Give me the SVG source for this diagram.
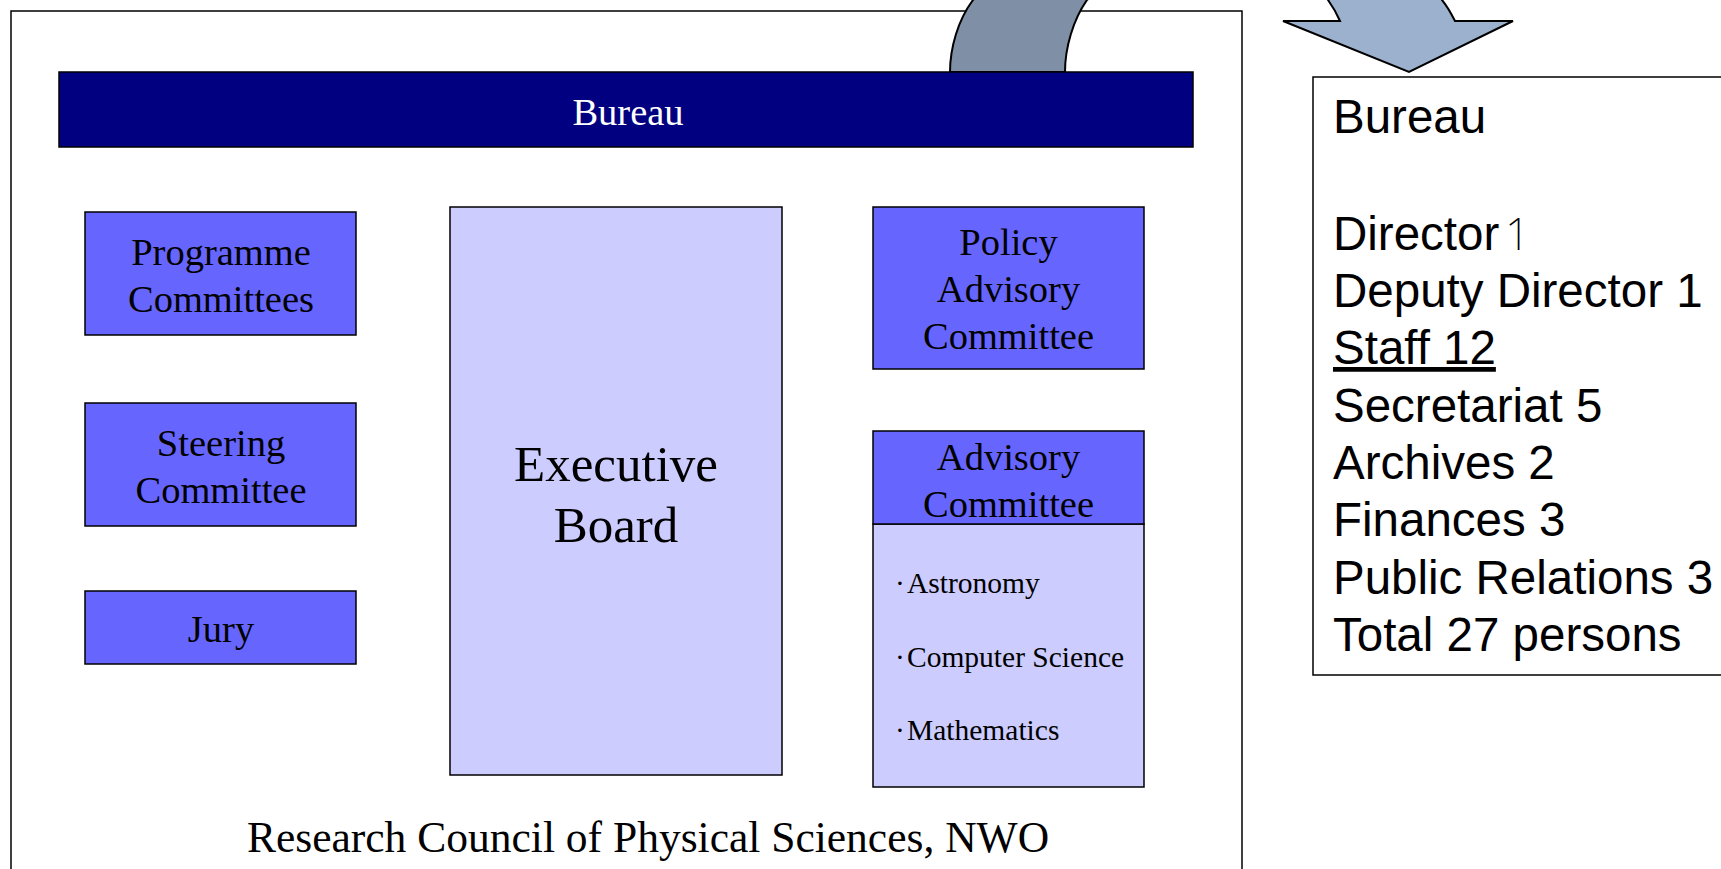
<svg xmlns="http://www.w3.org/2000/svg" width="1721" height="869" viewBox="0 0 1721 869">
<style>
.box{stroke:#000;stroke-width:1.5}
.mid{fill:#6666FF}
.light{fill:#CCCCFF}
.serif{font-family:"Liberation Serif","Times New Roman",serif;fill:#000;text-anchor:middle}
.t38{font-size:38.5px}
.sans{font-family:"Liberation Sans",Arial,sans-serif;font-size:47.5px;fill:#000}
.item{font-family:"Liberation Serif","Times New Roman",serif;font-size:29.5px;fill:#000}
</style>
<rect x="0" y="0" width="1721" height="869" fill="#fff"/>
<g id="council">
<rect x="11" y="11" width="1231" height="880" fill="#fff" stroke="#000" stroke-width="1.5"/>
<text class="serif" x="648" y="852" font-size="43.5px">Research Council of Physical Sciences, NWO</text>
</g>
<g id="connectors">
<path d="M950,72 C950,48 958,20 973,0 L979,-6 L1094,-6 L1087,0 C1073,20 1065,48 1065,72 Z" fill="#7F8FA5" stroke="#000" stroke-width="2"/>
<path d="M1326,-6 L1328,0 C1333,7 1337,14 1340,21 L1283,21 L1409,72 L1513,21 L1455,21 C1451,13 1447,6 1442,0 L1440,-6 Z" fill="#9CB1CE" stroke="#000" stroke-width="2" stroke-linejoin="miter"/>
</g>
<g id="bureau">
<rect class="box" x="59" y="72" width="1134" height="75" fill="#000080"/>
<text class="serif t38" x="628" y="125" style="fill:#fff">Bureau</text>
</g>
<g id="programme-committees">
<rect class="box mid" x="85" y="212" width="271" height="123"/>
<text class="serif t38" x="221" y="265">Programme</text>
<text class="serif t38" x="221" y="312">Committees</text>
</g>
<g id="steering-committee">
<rect class="box mid" x="85" y="403" width="271" height="123"/>
<text class="serif t38" x="221" y="456">Steering</text>
<text class="serif t38" x="221" y="503">Committee</text>
</g>
<g id="jury">
<rect class="box mid" x="85" y="591" width="271" height="73"/>
<text class="serif t38" x="221" y="642">Jury</text>
</g>
<g id="executive-board">
<rect class="box light" x="450" y="207" width="332" height="568"/>
<text class="serif" x="616" y="481" font-size="51px">Executive</text>
<text class="serif" x="616" y="542" font-size="51px">Board</text>
</g>
<g id="policy-advisory-committee">
<rect class="box mid" x="873" y="207" width="271" height="162"/>
<text class="serif t38" x="1008.5" y="255">Policy</text>
<text class="serif t38" x="1008.5" y="302">Advisory</text>
<text class="serif t38" x="1008.5" y="349">Committee</text>
</g>
<g id="advisory-committee">
<rect class="box light" x="873" y="524" width="271" height="263"/>
<rect class="box mid" x="873" y="431" width="271" height="93"/>
<text class="serif t38" x="1008.5" y="470">Advisory</text>
<text class="serif t38" x="1008.5" y="517">Committee</text>
<text class="item" x="895" y="593">·<tspan x="907">Astronomy</tspan></text>
<text class="item" x="895" y="667">·<tspan x="907">Computer Science</tspan></text>
<text class="item" x="895" y="740">·<tspan x="907">Mathematics</tspan></text>
</g>
<g id="bureau-staff">
<rect x="1313" y="77" width="420" height="598" fill="#fff" stroke="#000" stroke-width="1.5"/>
<text class="sans" x="1333" y="133">Bureau</text>
<text class="sans" x="1333" y="250">Director<tspan x="1505" style="font-family:'Noto Sans',sans-serif;font-weight:200;font-size:44px">1</tspan></text>
<text class="sans" x="1333" y="307">Deputy Director 1</text>
<text class="sans" x="1333" y="364" text-decoration="underline">Staff 12</text>
<text class="sans" x="1333" y="422">Secretariat 5</text>
<text class="sans" x="1333" y="479">Archives 2</text>
<text class="sans" x="1333" y="536">Finances 3</text>
<text class="sans" x="1333" y="594">Public Relations 3</text>
<text class="sans" x="1333" y="651">Total 27 persons</text>
</g>
</svg>
